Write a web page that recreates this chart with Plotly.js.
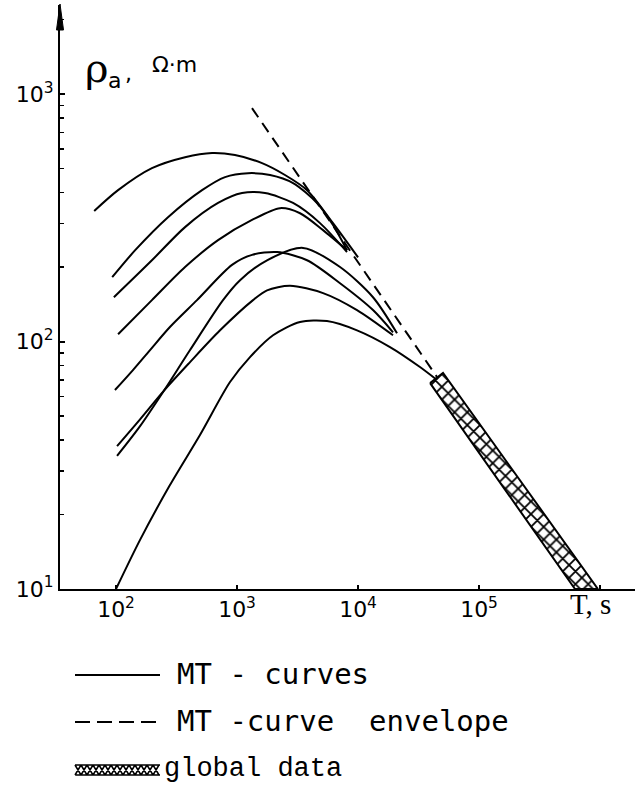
<!DOCTYPE html>
<html><head><meta charset="utf-8">
<script src="https://cdn.plot.ly/plotly-3.0.1.min.js"></script>
<style>html,body{margin:0;padding:0;background:#fff}</style>
</head><body><div id="chart" style="width:635px;height:805px"></div>
<script>
// ---- data (period T in s, apparent resistivity rho_a in Ohm·m) ----
const T_A = [66, 104, 198, 372, 622, 962, 1610, 2490, 3790, 6210, 10000];
const R_A = [337, 409, 502, 556, 578, 567, 526, 471, 409, 301, 219];
const T_B = [93, 144, 269, 514, 796, 1233, 1875, 2904, 4583, 6210, 8110];
const R_B = [182, 234, 318, 409, 462, 479, 471, 437, 363, 296, 234];
const T_C = [96, 198, 372, 697, 1100, 1703, 2904, 4853, 8110];
const R_C = [151, 213, 290, 363, 398, 398, 363, 301, 230];
const T_D = [104, 198, 372, 697, 1330, 2266, 3318, 5140, 8110];
const R_D = [107, 147, 200, 257, 310, 346, 330, 282, 234];
const T_E = [98, 138, 191, 279, 467, 909, 1330, 2142, 3790, 7100, 13300, 19460];
const R_E = [63.7, 76.7, 92.4, 114.5, 147, 204, 224, 230, 213, 172, 134, 109];
const T_F = [102, 158, 250, 409, 766, 1059, 1770, 3510, 7100, 13300, 21000];
const R_F = [34.5, 45.5, 63.5, 92.4, 147, 177, 213, 239, 200, 151, 108];
const T_G = [102, 158, 250, 409, 724, 1356, 1770, 2742, 5140, 9810, 19460];
const R_G = [37.8, 48.5, 63.5, 82.6, 111, 147, 161, 168, 157, 134, 106];
const T_H = [100, 158, 279, 494, 875, 1280, 1985, 3318, 5540, 9810, 18380, 32500, 44980];
const R_H = [10, 15.8, 26.3, 41.9, 68.6, 86.5, 106, 120, 121, 111, 95, 78.9, 69.9];
// envelope of MT curves
const T_ENV = [1330, 44980];
const R_ENV = [877, 71.9];
// global data band (lower / upper boundaries)
const T_GLOBAL_LO = [39400, 621000];
const R_GLOBAL_LO = [67.9, 10];
const T_GLOBAL_HI = [50400, 961000];
const R_GLOBAL_HI = [74.6, 10];
// tick labels
const X_TICKS = [100, 1000, 10000, 100000, 1000000];
const X_TICKTEXT = ['10<sup>2</sup>', '10<sup>3</sup>', '10<sup>4</sup>', '10<sup>5</sup>', ' '];
const Y_TICKS = [10, 100, 1000];
const Y_TICKTEXT = ['10<sup>1</sup>', '10<sup>2</sup>', '10<sup>3</sup>'];
const Y_MINOR = [20, 30, 40, 50, 60, 70, 80, 90, 200, 300, 400, 500, 600, 700, 800, 900, 2000];
const LEGEND_LABELS = ['MT\u00A0-\u00A0curves', 'MT\u00A0-curve\u00A0\u00A0envelope', 'global\u00A0data'];

// ---- layout geometry ----
const W = 635, H = 805, ML = 60, MR = 0, MT = 5, MB = 216;
const PW = W - ML - MR, PH = H - MT - MB;
const px = x => (x - ML) / PW;
const py = y => (H - MB - y) / PH;

const curveLine = {color: '#000', width: 2, shape: 'spline', smoothing: 0.8};
const curves = [[T_A, R_A], [T_B, R_B], [T_C, R_C], [T_D, R_D], [T_E, R_E], [T_F, R_F], [T_G, R_G], [T_H, R_H]];
const traces = curves.map(([t, r]) => ({
  type: 'scatter', mode: 'lines', x: t, y: r, line: curveLine, hoverinfo: 'skip'
}));
traces.push({
  type: 'scatter', mode: 'lines', x: T_ENV, y: R_ENV,
  line: {color: '#000', width: 2, dash: '11px,7px'}, hoverinfo: 'skip'
});
traces.push({
  type: 'scatter', mode: 'lines',
  x: T_GLOBAL_LO.concat(T_GLOBAL_HI.slice().reverse()).concat([T_GLOBAL_LO[0]]),
  y: R_GLOBAL_LO.concat(R_GLOBAL_HI.slice().reverse()).concat([R_GLOBAL_LO[0]]),
  fill: 'toself', fillcolor: '#fff',
  fillpattern: {shape: 'x', size: 9, solidity: 0.35, fgcolor: '#000', bgcolor: '#fff'},
  line: {color: '#000', width: 2}, hoverinfo: 'skip'
});

// ---- legend drawings (style only) ----
const shapes = [];
// y-axis arrow head
shapes.push({type: 'path', xref: 'paper', yref: 'paper',
  path: `M${px(60)},${py(4)} L${px(56.5)},${py(30)} L${px(63.5)},${py(30)} Z`,
  fillcolor: '#000', line: {color: '#000', width: 1}});
// solid sample
shapes.push({type: 'line', xref: 'paper', yref: 'paper', x0: px(75), x1: px(160), y0: py(675), y1: py(675),
  line: {color: '#000', width: 2}});
// dashed sample
shapes.push({type: 'line', xref: 'paper', yref: 'paper', x0: px(75), x1: px(160), y0: py(722), y1: py(722),
  line: {color: '#000', width: 2, dash: '15px,7px'}});
// hatched sample
(function () {
  const x0 = 75, x1 = 160, yt = 765, yb = 775, step = 6;
  let p = `M${px(x0)},${py(yt)} L${px(x1)},${py(yt)} M${px(x0)},${py(yb)} L${px(x1)},${py(yb)}`;
  for (let x = x0; x + step <= x1 + 0.1; x += step) {
    p += ` M${px(x)},${py(yb)} L${px(x + step)},${py(yt)}`;
    p += ` M${px(x)},${py(yt)} L${px(x + step)},${py(yb)}`;
  }
  shapes.push({type: 'path', xref: 'paper', yref: 'paper', path: p, line: {color: '#000', width: 1.5}});
})();

const mono = 'DejaVu Sans Mono, monospace';
const annotations = [
  {xref: 'paper', yref: 'paper', x: px(175), y: py(674), xanchor: 'left', yanchor: 'middle', showarrow: false,
    text: LEGEND_LABELS[0], font: {family: mono, size: 29, color: '#000'}},
  {xref: 'paper', yref: 'paper', x: px(175), y: py(721), xanchor: 'left', yanchor: 'middle', showarrow: false,
    text: LEGEND_LABELS[1], font: {family: mono, size: 29, color: '#000'}},
  {xref: 'paper', yref: 'paper', x: px(162), y: py(769), xanchor: 'left', yanchor: 'middle', showarrow: false,
    text: LEGEND_LABELS[2], font: {family: 'Liberation Mono, monospace', size: 27, color: '#000'}},
  // axis titles
  {xref: 'paper', yref: 'paper', x: px(590), y: py(604), xanchor: 'center', yanchor: 'middle', showarrow: false,
    text: 'T, s', font: {family: 'Liberation Serif, serif', size: 29, color: '#000'}},
  {xref: 'paper', yref: 'paper', x: px(97), y: py(68), xanchor: 'center', yanchor: 'middle', showarrow: false,
    text: 'ρ', font: {family: 'DejaVu Serif, serif', size: 40, color: '#000'}},
  {xref: 'paper', yref: 'paper', x: px(114), y: py(80), xanchor: 'center', yanchor: 'middle', showarrow: false,
    text: 'a', font: {family: 'DejaVu Sans, sans-serif', size: 22, color: '#000'}},
  {xref: 'paper', yref: 'paper', x: px(128), y: py(74), xanchor: 'center', yanchor: 'middle', showarrow: false,
    text: ',', font: {family: 'DejaVu Sans, sans-serif', size: 22, color: '#000'}},
  {xref: 'paper', yref: 'paper', x: px(150), y: py(64), xanchor: 'left', yanchor: 'middle', showarrow: false,
    text: 'Ω·m', font: {family: 'DejaVu Sans, sans-serif', size: 22, color: '#000'}}
];

const tickFont = {family: 'DejaVu Sans, sans-serif', size: 22, color: '#000'};
const layout = {
  width: W, height: H,
  margin: {l: ML, r: MR, t: MT, b: MB, pad: 0},
  paper_bgcolor: '#fff', plot_bgcolor: '#fff',
  showlegend: false,
  xaxis: {
    type: 'log', range: [1.537, 6.289], showgrid: false, zeroline: false,
    showline: true, linecolor: '#000', linewidth: 2,
    ticks: 'inside', ticklen: 4, tickwidth: 2, tickcolor: '#000',
    tickmode: 'array', tickvals: X_TICKS, ticktext: X_TICKTEXT, tickfont: tickFont
  },
  yaxis: {
    type: 'log', range: [1, 3.36], showgrid: false, zeroline: false,
    showline: true, linecolor: '#000', linewidth: 2,
    ticks: 'inside', ticklen: 5, tickwidth: 2, tickcolor: '#000',
    tickmode: 'array', tickvals: Y_TICKS, ticktext: Y_TICKTEXT, tickfont: tickFont,
    minor: {tickmode: 'array', tickvals: Y_MINOR, ticks: 'inside', ticklen: 4, tickwidth: 1.5, tickcolor: '#000', showgrid: false}
  },
  shapes: shapes,
  annotations: annotations
};

Plotly.newPlot('chart', traces, layout, {staticPlot: true, displayModeBar: false});
</script>
</body></html>
